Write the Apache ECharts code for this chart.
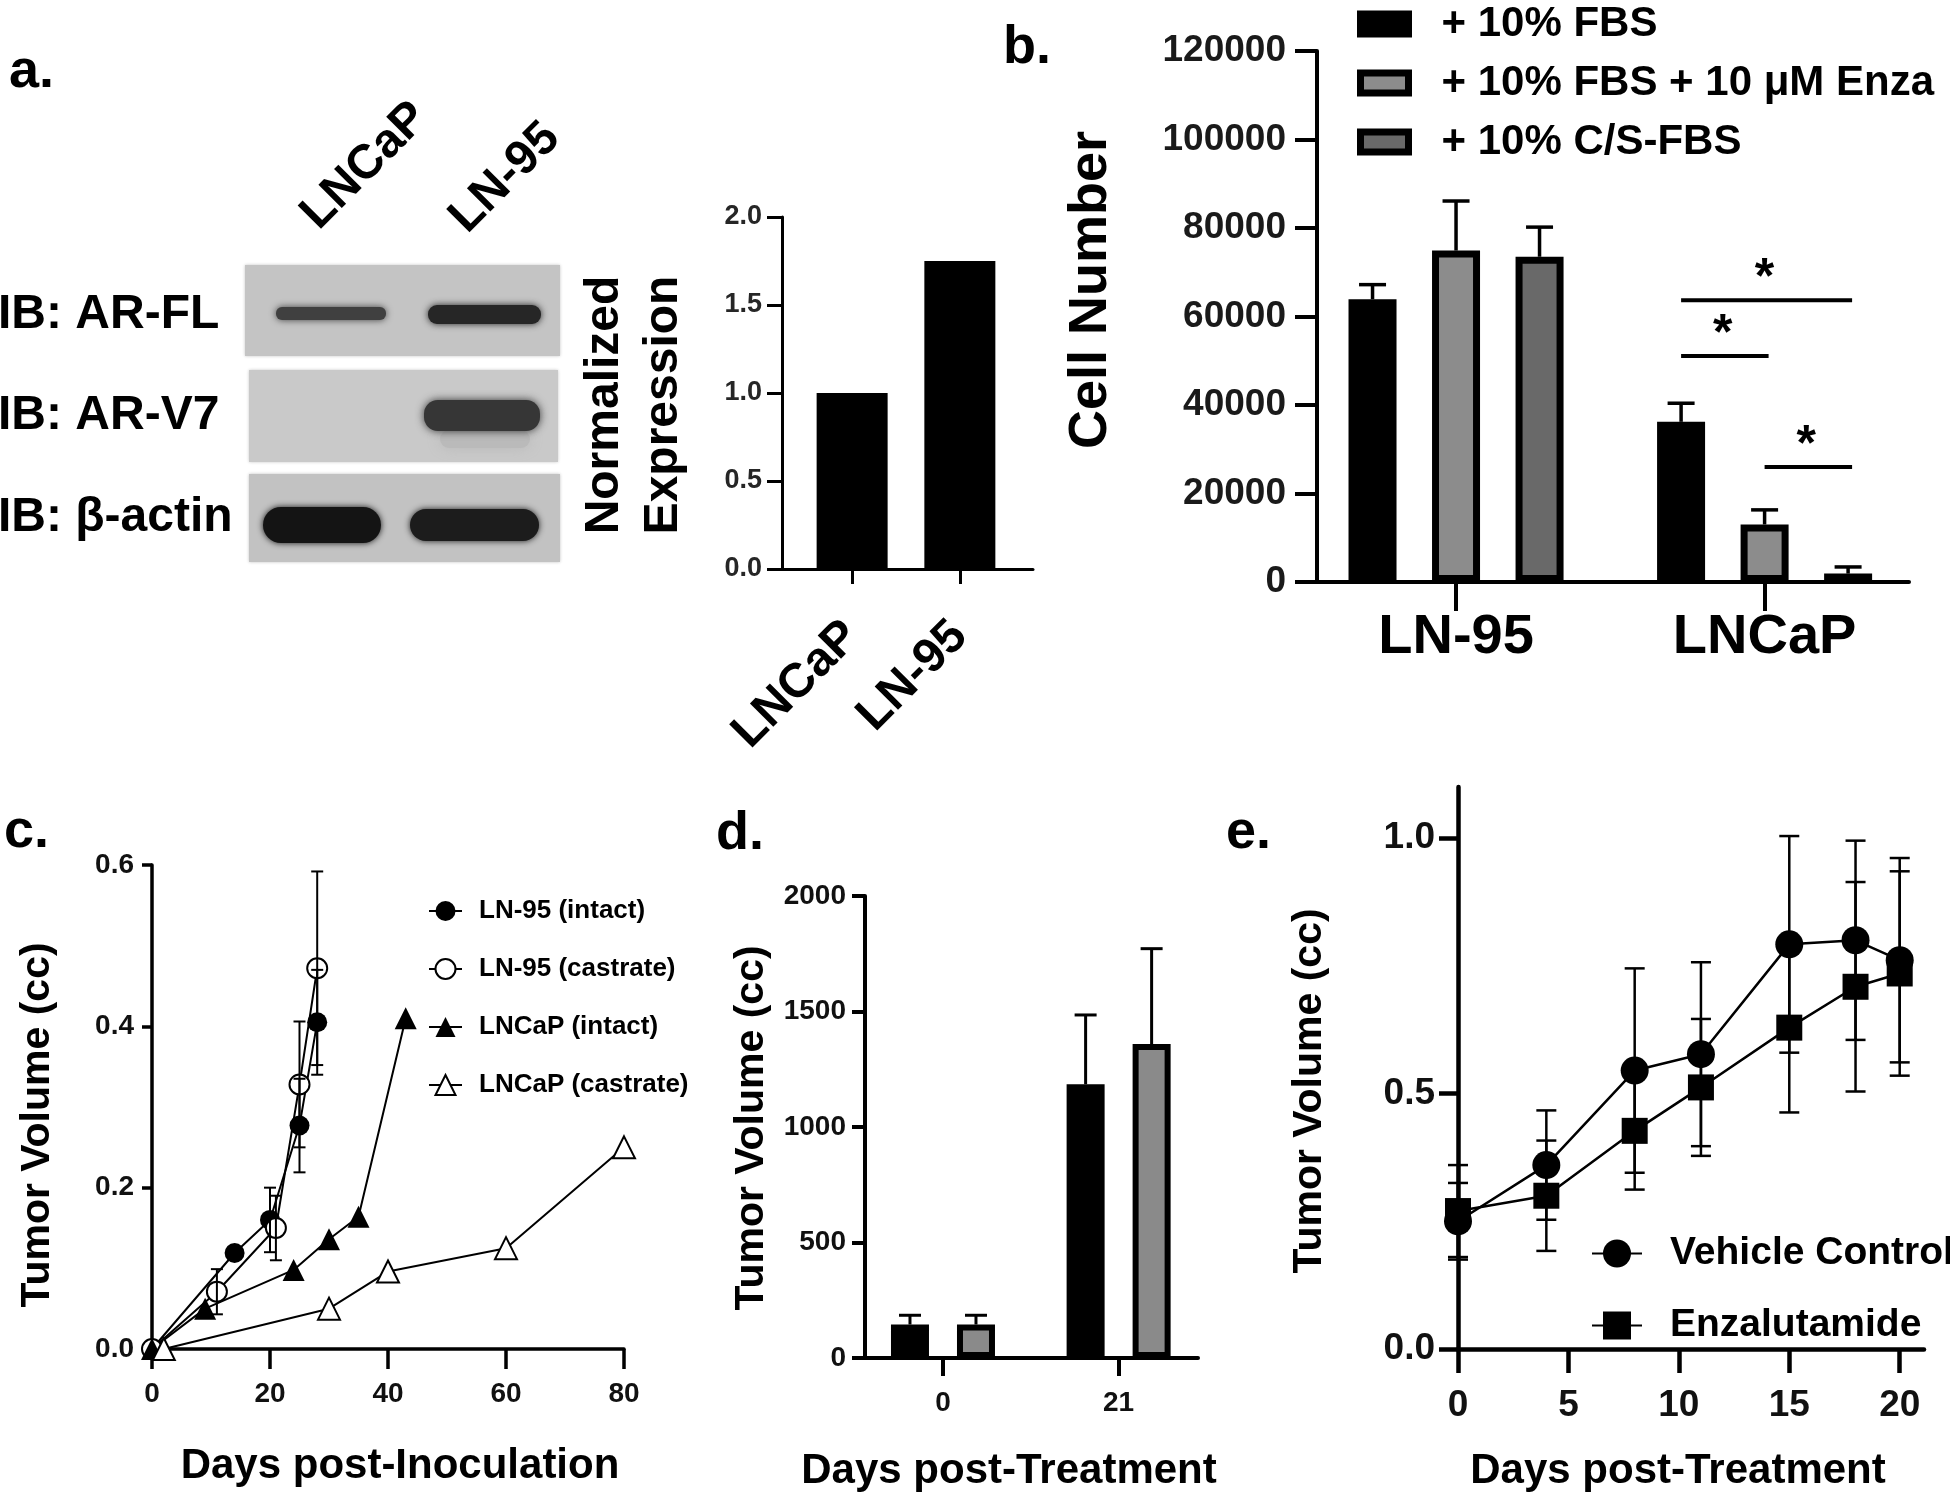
<!DOCTYPE html>
<html><head><meta charset="utf-8">
<script src="https://cdn.jsdelivr.net/npm/echarts@6/dist/echarts.min.js"></script>
<style>html,body{margin:0;padding:0;background:#fff}#c{width:1950px;height:1497px}</style>
</head><body><div id="c"></div>
<script>
// ---------- Panel a (Normalized expression) ----------
const aCategories = ['LNCaP', 'LN-95'];
const aExpression = [1.0, 1.75];
// ---------- Panel b (Cell number) ----------
const bGroups = ['LN-95', 'LNCaP'];
const bSeriesNames = ['+ 10% FBS', '+ 10% FBS + 10 μM Enza', '+ 10% C/S-FBS'];
const bFBS = [63900, 36200];
const bFBSErr = [3300, 4200];
const bEnza = [74900, 13000];
const bEnzaErr = [11200, 3300];
const bCSFBS = [73500, 1900];
const bCSFBSErr = [6700, 1500];
const bSigGroup = 1;                         // brackets drawn over the LNCaP group
const bSig = [[0, 2, 63700], [0, 1, 51100], [1, 2, 26000]]; // [fromBar, toBar, yValue]
// ---------- Panel c (Tumor volume post-inoculation) ----------
const cNames = ['LN-95 (intact)', 'LN-95 (castrate)', 'LNCaP (intact)', 'LNCaP (castrate)'];
const cLN95IntactDays = [0, 14, 20, 25, 28];
const cLN95IntactVol = [0, 0.119, 0.16, 0.277, 0.405];
const cLN95IntactErr = [0, 0, 0.04, 0.058, 0.065];
const cLN95CastDays = [0, 11, 21, 25, 28];
const cLN95CastVol = [0, 0.071, 0.15, 0.328, 0.472];
const cLN95CastErr = [0, 0.028, 0.04, 0.078, 0.12];
const cLNCaPIntactDays = [0, 9, 24, 30, 35, 43];
const cLNCaPIntactVol = [0, 0.05, 0.098, 0.136, 0.164, 0.41];
const cLNCaPCastDays = [2, 30, 40, 60, 80];
const cLNCaPCastVol = [0, 0.05, 0.096, 0.125, 0.25];
// ---------- Panel d (Tumor volume bars) ----------
const dDays = ['0', '21'];
const dVehicle = [145, 1185];
const dVehicleErr = [40, 300];
const dEnza = [145, 1359];
const dEnzaErr = [40, 413];
// ---------- Panel e (Tumor volume post-treatment) ----------
const eNames = ['Vehicle Control', 'Enzalutamide'];
const eDays = [0, 4, 8, 11, 15, 18, 20];
const eVehicle = [0.25, 0.36, 0.545, 0.577, 0.792, 0.80, 0.761];
const eVehicleErr = [0.075, 0.107, 0.2, 0.18, 0.212, 0.195, 0.2];
const eEnza = [0.27, 0.30, 0.427, 0.512, 0.629, 0.709, 0.735];
const eEnzaErr = [0.09, 0.108, 0.115, 0.134, 0.166, 0.205, 0.2];

const FONT = '"Liberation Sans", Arial, Helvetica, sans-serif';

const B_STEP = 83.5; // px between bar centres in a panel-b group
const D_STEP = 66;   // px between bar centres in a panel-d group

function zip(xs, ys, es) { return xs.map((x, i) => es ? [x, ys[i], es[i]] : [x, ys[i]]); }
const plain = v => String(v);

function errBars(xi, yi, pts, o) {
  o = o || {};
  const offset = o.offset || 0, upperOnly = !!o.upperOnly, capW = o.capW || 20, lw = o.lw || 2.5;
  return {
    type: 'custom', xAxisIndex: xi, yAxisIndex: yi, data: pts, z: o.z || 5, silent: true,
    encode: { x: 0, y: 1 },
    renderItem: function (params, api) {
      const x = api.value(0), y = api.value(1), e = api.value(2);
      if (!e) return null;
      const p1 = api.coord([x, y + e]);
      const p0 = api.coord([x, upperOnly ? y : y - e]);
      const cx = p1[0] + offset;
      const st = { stroke: '#000', lineWidth: lw };
      const ch = [
        { type: 'line', shape: { x1: cx, y1: p0[1], x2: cx, y2: p1[1] }, style: st },
        { type: 'line', shape: { x1: cx - capW / 2, y1: p1[1], x2: cx + capW / 2, y2: p1[1] }, style: st }
      ];
      if (!upperOnly) ch.push({ type: 'line', shape: { x1: cx - capW / 2, y1: p0[1], x2: cx + capW / 2, y2: p0[1] }, style: st });
      return { type: 'group', children: ch };
    }
  };
}

function axisLine(w) { return { show: true, onZero: false, lineStyle: { color: '#000', width: w } }; }
function axisTick(len, w, custom) {
  const t = { show: true, length: len, lineStyle: { color: '#000', width: w } };
  if (custom) t.customValues = custom;
  return t;
}
function axisLabel(size, margin, extra) {
  return Object.assign({ fontFamily: FONT, fontSize: size, fontWeight: 'bold', color: '#111', margin: margin, formatter: plain }, extra || {});
}

function T(text, x, y, size, o) {
  o = o || {};
  const al = o.align || 'center';
  return {
    type: 'text', x: x, y: y, rotation: o.rot || 0, z: 100, silent: true,
    style: {
      text: text, x: 0, y: 0, fill: o.color || '#000',
      font: 'bold ' + size + 'px ' + FONT,
      align: al, textAlign: al, verticalAlign: 'middle', textVerticalAlign: 'middle'
    }
  };
}
function R(x, y, w, h, fill, blur, r) {
  return { type: 'rect', z: 1, silent: true, shape: { x: x, y: y, width: w, height: h, r: r || 0 },
    style: { fill: fill, shadowBlur: blur || 0, shadowColor: fill } };
}

const bIdx = bGroups.map((_, i) => i);
const bVals = [bFBS, bEnza, bCSFBS];
const bErrs = [bFBSErr, bEnzaErr, bCSFBSErr];
const bColors = ['#000000', '#8c8c8c', '#696969'];
const dVals = [dVehicle, dEnza];
const dErrs = [dVehicleErr, dEnzaErr];
const dColors = ['#000000', '#8a8a8a'];

const series = [];
// a
series.push({ type: 'bar', name: 'a-expression', xAxisIndex: 0, yAxisIndex: 0,
  data: aExpression.map((v, i) => [i, v]), barWidth: 71, itemStyle: { color: '#000' } });
// b
bVals.forEach((vals, k) => {
  series.push({ type: 'bar', name: bSeriesNames[k], xAxisIndex: 1, yAxisIndex: 1,
    data: vals.map((v, i) => [i, v]), barWidth: 48, barGap: '74%',
    itemStyle: { color: bColors[k], borderColor: '#000', borderWidth: 7 } });
});
bVals.forEach((vals, k) => {
  series.push(errBars(1, 1, zip(bIdx, vals, bErrs[k]), { offset: (k - 1) * B_STEP, upperOnly: true, capW: 27, lw: 3.5 }));
});
series.push({
  type: 'custom', xAxisIndex: 1, yAxisIndex: 1, silent: true, z: 6,
  data: bSig.map(s => [bSigGroup, s[2], s[0], s[1]]), encode: { x: 0, y: 1 },
  renderItem: function (params, api) {
    const p = api.coord([api.value(0), api.value(1)]);
    const x1 = p[0] + (api.value(2) - 1) * B_STEP, x2 = p[0] + (api.value(3) - 1) * B_STEP;
    return { type: 'group', children: [
      { type: 'line', shape: { x1: x1, y1: p[1], x2: x2 + 4, y2: p[1] }, style: { stroke: '#000', lineWidth: 4 } },
      { type: 'text', style: { text: '*', x: (x1 + x2) / 2, y: p[1] - 21, font: 'bold 50px ' + FONT, fill: '#000',
        align: 'center', textAlign: 'center', verticalAlign: 'middle', textVerticalAlign: 'middle' } }
    ] };
  }
});
// c
const cData = [
  zip(cLN95IntactDays, cLN95IntactVol), zip(cLN95CastDays, cLN95CastVol),
  zip(cLNCaPIntactDays, cLNCaPIntactVol), zip(cLNCaPCastDays, cLNCaPCastVol)
];
const cSymbols = ['circle', 'emptyCircle', 'triangle', 'emptyTriangle'];
const cSizes = [20, 20, 22, 22];
cData.forEach((d, k) => {
  series.push({ type: 'line', name: cNames[k], xAxisIndex: 2, yAxisIndex: 2, data: d, z: 3,
    symbol: cSymbols[k], symbolSize: cSizes[k], showSymbol: true,
    lineStyle: { color: '#000', width: 2 },
    itemStyle: { color: '#000', borderColor: '#000', borderWidth: k % 2 ? 3 : 0 } });
});
series.push(errBars(2, 2, zip(cLN95IntactDays, cLN95IntactVol, cLN95IntactErr), { capW: 12, lw: 2, z: 4 }));
series.push(errBars(2, 2, zip(cLN95CastDays, cLN95CastVol, cLN95CastErr), { capW: 12, lw: 2, z: 4 }));
// d
dVals.forEach((vals, k) => {
  series.push({ type: 'bar', name: 'd-' + k, xAxisIndex: 3, yAxisIndex: 3,
    data: vals.map((v, i) => [i, v]), barWidth: 38, barGap: '73.7%',
    itemStyle: { color: dColors[k], borderColor: '#000', borderWidth: 6 } });
});
dVals.forEach((vals, k) => {
  series.push(errBars(3, 3, zip(dDays.map((_, i) => i), vals, dErrs[k]), { offset: (k - 0.5) * D_STEP, upperOnly: true, capW: 22, lw: 3 }));
});
// e
series.push(errBars(4, 4, zip(eDays, eVehicle, eVehicleErr), { capW: 20, lw: 2.5, z: 2 }));
series.push(errBars(4, 4, zip(eDays, eEnza, eEnzaErr), { capW: 20, lw: 2.5, z: 2 }));
series.push({ type: 'line', name: eNames[0], xAxisIndex: 4, yAxisIndex: 4, data: zip(eDays, eVehicle), z: 3,
  symbol: 'circle', symbolSize: 28, lineStyle: { color: '#000', width: 2.5 }, itemStyle: { color: '#000' } });
series.push({ type: 'line', name: eNames[1], xAxisIndex: 4, yAxisIndex: 4, data: zip(eDays, eEnza), z: 3,
  symbol: 'rect', symbolSize: 26, lineStyle: { color: '#000', width: 2.5 }, itemStyle: { color: '#000' } });

const graphic = [
  // western blot panel
  R(245, 265, 315, 91, '#c4c4c4', 3), R(249, 370, 309, 92, '#c9c9c9', 3), R(249, 474, 311, 88, '#c2c2c2', 3),
  R(276, 307, 110, 13, '#404040', 7, 6), R(428, 305, 113, 19, '#262626', 7, 9),
  R(440, 430, 90, 18, '#bababa', 14, 9), R(424, 400, 116, 31, '#363636', 9, 14),
  R(263, 507, 118, 36, '#141414', 6, 18), R(410, 509, 129, 32, '#1c1c1c', 6, 16),
  T('IB: AR-FL', -2, 315, 48, { align: 'left' }),
  T('IB: AR-V7', -2, 416, 48, { align: 'left' }),
  T('IB: β-actin', -2, 518, 48, { align: 'left' }),
  T('LNCaP', 365, 166, 48, { rot: Math.PI / 4 }),
  T('LN-95', 505, 178, 48, { rot: Math.PI / 4 }),
  T('Normalized', 605, 405, 48, { rot: Math.PI / 2 }),
  T('Expression', 664, 405, 48, { rot: Math.PI / 2 }),
  // panel letters
  T('a.', 9, 72, 54, { align: 'left' }),
  T('b.', 1003, 48, 54, { align: 'left' }),
  T('c.', 4, 832, 54, { align: 'left' }),
  T('d.', 716, 834, 54, { align: 'left' }),
  T('e.', 1226, 833, 54, { align: 'left' }),
  // axis titles
  T('Cell Number', 1091, 290, 54, { rot: Math.PI / 2 }),
  T('Tumor Volume (cc)', 38, 1125, 41, { rot: Math.PI / 2 }),
  T('Tumor Volume (cc)', 752, 1128, 41, { rot: Math.PI / 2 }),
  T('Tumor Volume (cc)', 1310, 1091, 41, { rot: Math.PI / 2 }),
  T('Days post-Inoculation', 400, 1466, 42),
  T('Days post-Treatment', 1009, 1471, 42),
  T('Days post-Treatment', 1678, 1471, 42)
];

const option = {
  animation: false,
  backgroundColor: '#ffffff',
  grid: [
    { left: 782, top: 217, width: 251, height: 352, outerBoundsMode: 'none' },
    { left: 1317, top: 51, width: 592, height: 531, outerBoundsMode: 'none' },
    { left: 152, top: 865, width: 472, height: 484, outerBoundsMode: 'none' },
    { left: 865, top: 896, width: 333, height: 462, outerBoundsMode: 'none' },
    { left: 1458, top: 787, width: 466, height: 562, outerBoundsMode: 'none' }
  ],
  xAxis: [
    { gridIndex: 0, type: 'value', min: -0.651, max: 1.679, splitLine: { show: false },
      axisLine: axisLine(3), axisTick: axisTick(15, 3, aCategories.map((_, i) => i)),
      axisLabel: axisLabel(48, 60, { customValues: aCategories.map((_, i) => i), rotate: 45, color: '#000',
        formatter: v => aCategories[Math.round(v)] || '' }) },
    { gridIndex: 1, type: 'value', min: -0.4506, max: 1.468, splitLine: { show: false },
      axisLine: axisLine(4), axisTick: axisTick(29, 4, bIdx),
      axisLabel: axisLabel(56, 28, { customValues: bIdx, color: '#000', formatter: v => bGroups[Math.round(v)] || '' }) },
    { gridIndex: 2, type: 'value', min: 0, max: 80, interval: 20, splitLine: { show: false },
      axisLine: axisLine(3.5), axisTick: axisTick(20, 3.5), axisLabel: axisLabel(28, 31) },
    { gridIndex: 3, type: 'value', min: -0.444, max: 1.452, splitLine: { show: false },
      axisLine: axisLine(4), axisTick: axisTick(18, 4, dDays.map((_, i) => i)),
      axisLabel: axisLabel(28, 31, { customValues: dDays.map((_, i) => i), formatter: v => dDays[Math.round(v)] || '' }) },
    { gridIndex: 4, type: 'value', min: 0, max: 21.1, splitLine: { show: false },
      axisLine: axisLine(4.5), axisTick: axisTick(24, 4.5, [0, 5, 10, 15, 20]),
      axisLabel: axisLabel(37, 38, { customValues: [0, 5, 10, 15, 20] }) }
  ],
  yAxis: [
    { gridIndex: 0, type: 'value', min: 0, max: 2, interval: 0.5, splitLine: { show: false },
      axisLine: axisLine(3), axisTick: axisTick(15, 3),
      axisLabel: axisLabel(27, 20, { color: '#262626', formatter: v => v.toFixed(1) }) },
    { gridIndex: 1, type: 'value', min: 0, max: 120000, interval: 20000, splitLine: { show: false },
      axisLine: axisLine(4), axisTick: axisTick(22, 4),
      axisLabel: axisLabel(37, 31, { color: '#1a1a1a' }) },
    { gridIndex: 2, type: 'value', min: 0, max: 0.6, interval: 0.2, splitLine: { show: false },
      axisLine: axisLine(3.5), axisTick: axisTick(10, 3.5),
      axisLabel: axisLabel(28, 18, { formatter: v => v.toFixed(1) }) },
    { gridIndex: 3, type: 'value', min: 0, max: 2000, interval: 500, splitLine: { show: false },
      axisLine: axisLine(4), axisTick: axisTick(13, 4), axisLabel: axisLabel(28, 19) },
    { gridIndex: 4, type: 'value', min: 0, max: 1.1, splitLine: { show: false },
      axisLine: axisLine(4.5), axisTick: axisTick(19, 4.5, [0, 0.5, 1]),
      axisLabel: axisLabel(37, 23, { customValues: [0, 0.5, 1], formatter: v => v.toFixed(1) }) }
  ],
  legend: [
    { orient: 'vertical', left: 1352, top: -2, icon: 'rect', itemWidth: 48, itemHeight: 20, itemGap: 17, selectedMode: false,
      data: bSeriesNames.map(n => ({ name: n, itemStyle: { borderColor: '#000', borderWidth: 7 } })),
      textStyle: { fontFamily: FONT, fontSize: 42, fontWeight: 'bold', color: '#000', padding: [0, 0, 0, 28] } },
    { orient: 'vertical', left: 423, top: 893, itemWidth: 33, itemHeight: 25, itemGap: 32, selectedMode: false,
      data: cNames,
      textStyle: { fontFamily: FONT, fontSize: 26, fontWeight: 'bold', color: '#000', padding: [0, 0, 0, 12] } },
    { orient: 'vertical', left: 1586, top: 1229, itemWidth: 50, itemHeight: 35, itemGap: 33, selectedMode: false,
      data: eNames,
      textStyle: { fontFamily: FONT, fontSize: 39, fontWeight: 'bold', color: '#000', padding: [0, 0, 0, 23] } }
  ],
  graphic: graphic,
  series: series
};

const chart = echarts.init(document.getElementById('c'), null, { renderer: 'canvas', width: 1950, height: 1497 });
chart.setOption(option);
</script>
</body></html>
